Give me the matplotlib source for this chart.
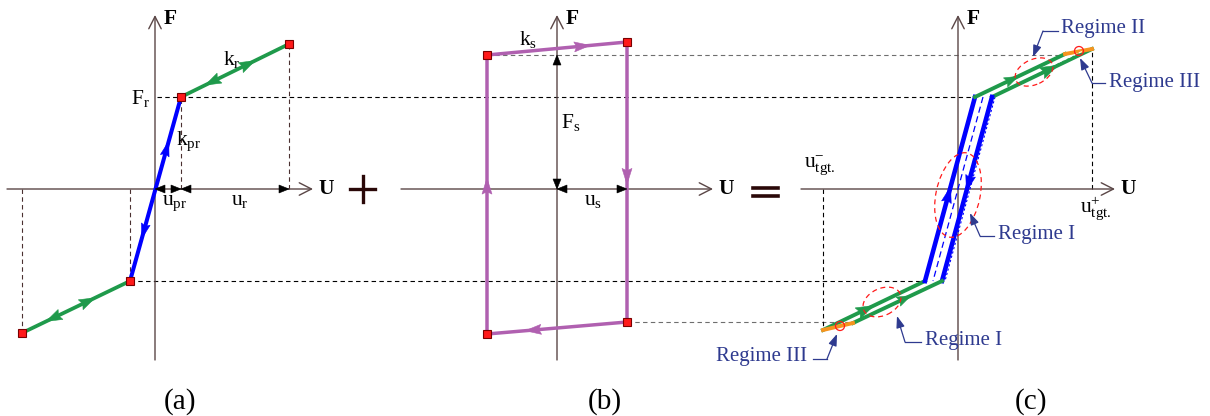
import matplotlib
matplotlib.use("Agg")
import numpy as np
import matplotlib.pyplot as plt
from matplotlib.transforms import Affine2D
from matplotlib.patches import Ellipse, Polygon, Circle

plt.rcParams["font.family"] = ["Liberation Serif", "DejaVu Serif"]
plt.rcParams["mathtext.fontset"] = "custom"
plt.rcParams["mathtext.rm"] = "Liberation Serif"
plt.rcParams["mathtext.it"] = "Liberation Serif:italic"
plt.rcParams["mathtext.bf"] = "Liberation Serif:bold"

# ---------------------------------------------------------------- data
# (a) bilinear spring: k_r branch, k_pr elastic branch, k_r branch
spring_u = [-133, -25, 26, 134]
spring_f = [-144, -92, 92, 145]

# (b) slip (friction) element: closed loop, corners in order
slip_u = [-70, 70, 70, -70, -70]
slip_f = [134, 147, -133, -145, 134]

# (c) combined response: loading path and unloading path
load_u = [-135, -33, 17, 107]
load_f = [-141, -92, 92, 135]
unload_u = [134, 34, -16, -105]
unload_f = [140, 92, -92, -134]
# regime III (slip) pieces at both tips
top_slip_u = [107, 134]
top_slip_f = [135, 140]
bot_slip_u = [-105, -135]
bot_slip_f = [-134, -141]

# ---------------------------------------------------------------- layout
W, H = 1210, 416
ROW = 189                       # vertical pixel of the U axis
X0 = {"a": 155, "b": 557, "c": 958}

GREEN = "#1f9a4b"
BLUE = "#0000ff"
PURPLE = "#b060b0"
ORANGE = "#f7941d"
RED = "#ff1a1a"
AXC = "#5a4646"
NAVY = "#2e3a8f"
INK = "#2a0808"

fig = plt.figure(figsize=(W / 100, H / 100), dpi=100)
ax = fig.add_axes([0, 0, 1, 1])
ax.set_xlim(0, W)
ax.set_ylim(H, 0)
ax.axis("off")


def tr(panel):
    return Affine2D().scale(1, -1).translate(X0[panel], ROW) + ax.transData


def gx(panel, u):
    return X0[panel] + u


def gy(f):
    return ROW - f


def tri(tip, d, color, length, width, z, notch=0.15):
    d = np.asarray(d, float)
    d /= np.hypot(*d)
    n = np.array([-d[1], d[0]])
    tip = np.asarray(tip, float)
    base = tip - d * length
    ax.add_patch(Polygon([tip, base + n * width / 2, base + d * length * notch,
                          base - n * width / 2],
                         closed=True, facecolor=color, edgecolor=color,
                         lw=0.4, zorder=z))


def head(panel, p, q, t, color, back=False, length=16, width=11, z=6):
    X1, Y1 = gx(panel, p[0]), gy(p[1])
    X2, Y2 = gx(panel, q[0]), gy(q[1])
    c = np.array([X1 + (X2 - X1) * t, Y1 + (Y2 - Y1) * t])
    d = np.array([X2 - X1, Y2 - Y1], float)
    d /= np.hypot(*d)
    if back:
        d = -d
    tri(c + d * length / 2, d, color, length, width, z)


def dim_heads(xa, ya, xb, yb):
    # filled black heads at both ends of a dimension run along an axis
    d = np.array([xb - xa, yb - ya], float)
    tri((xb, yb), d, "black", 10, 8, 7, notch=0.0)
    tri((xa, ya), -d, "black", 10, 8, 7, notch=0.0)


def axis_arrow(x1, y1, x2, y2):
    ax.annotate("", xy=(x2, y2), xytext=(x1, y1),
                arrowprops=dict(arrowstyle="->,head_length=0.55,head_width=0.28",
                                color=AXC, lw=1.0, shrinkA=0, shrinkB=0,
                                mutation_scale=16), zorder=2)


def dashed(xs, ys, color="black", lw=0.8):
    ax.plot(xs, ys, color=color, lw=lw, ls=(0, (4, 3)), zorder=1)


def red_marks(panel, us, fs):
    ax.plot(us, fs, ls="none", marker="s", ms=5.8, mfc=RED, mec="#7a0000",
            mew=0.8, transform=tr(panel), zorder=8)


# ---------------------------------------------------------------- axes
for p, (xl, xr) in {"a": (7, 313), "b": (401, 713), "c": (801, 1115)}.items():
    axis_arrow(xl, ROW, xr, ROW)
    axis_arrow(X0[p], 360, X0[p], 15)
    ax.text(X0[p] + 9, 19, "F", fontsize=15.5, fontweight="bold", ha="left", va="center")
    ax.text(xr + 5, ROW, "U", fontsize=15.5, fontweight="bold", ha="left", va="center")

# ---------------------------------------------------------------- reference lines
# force levels carried across the panels
dashed([gx("a", 2), gx("c", load_u[2])], [gy(spring_f[2])] * 2)
dashed([gx("a", spring_u[1]), gx("c", load_u[1])], [gy(spring_f[1])] * 2)
dashed([gx("b", slip_u[0]), gx("c", load_u[3])], [gy(slip_f[0])] * 2, color="#6e6e6e")
dashed([gx("b", slip_u[2]), gx("c", unload_u[3])], [gy(slip_f[2])] * 2, color="#6e6e6e")
# vertical projections
for u, f in zip(spring_u, spring_f):
    dashed([gx("a", u)] * 2, [gy(0), gy(f)], color="#4a3030")
dashed([gx("c", load_u[0])] * 2, [gy(0), gy(load_f[0])])
dashed([gx("c", unload_u[0])] * 2, [gy(0), gy(unload_f[0])])

# ---------------------------------------------------------------- (a)
ta = tr("a")
ax.plot(spring_u[0:2], spring_f[0:2], color=GREEN, lw=2.7, transform=ta, zorder=4,
        solid_capstyle="butt")
ax.plot(spring_u[1:3], spring_f[1:3], color=BLUE, lw=2.9, transform=ta, zorder=4)
ax.plot(spring_u[2:4], spring_f[2:4], color=GREEN, lw=2.7, transform=ta, zorder=4,
        solid_capstyle="butt")
red_marks("a", spring_u, spring_f)
sp = list(zip(spring_u, spring_f))
head("a", sp[2], sp[3], 0.62, GREEN)
head("a", sp[2], sp[3], 0.29, GREEN, back=True)
head("a", sp[1], sp[2], 0.72, BLUE, length=15, width=9)
head("a", sp[1], sp[2], 0.27, BLUE, back=True, length=15, width=9)
head("a", sp[0], sp[1], 0.61, GREEN)
head("a", sp[0], sp[1], 0.29, GREEN, back=True)
dim_heads(gx("a", 0), ROW, gx("a", spring_u[2]), ROW)
dim_heads(gx("a", spring_u[2]), ROW, gx("a", spring_u[3]), ROW)

ax.text(223, 65, r"$\mathrm{k_r}$", fontsize=15.5, ha="left", va="baseline")
ax.text(131, 104, r"$\mathrm{F_r}$", fontsize=15.5, ha="left", va="baseline")
ax.text(176, 145, r"$\mathrm{k_{pr}}$", fontsize=15.5, ha="left", va="baseline")
ax.text(162, 205, r"$\mathrm{u_{pr}}$", fontsize=15.5, ha="left", va="baseline")
ax.text(231, 205, r"$\mathrm{u_r}$", fontsize=15.5, ha="left", va="baseline")

# ---------------------------------------------------------------- (b)
tb = tr("b")
ax.plot(slip_u, slip_f, color=PURPLE, lw=2.5, transform=tb, zorder=4)
red_marks("b", slip_u[:4], slip_f[:4])
sl = list(zip(slip_u, slip_f))
head("b", sl[0], sl[1], 0.68, PURPLE, length=16, width=10)
head("b", sl[1], sl[2], 0.48, PURPLE, length=16, width=10)
head("b", sl[2], sl[3], 0.67, PURPLE, length=16, width=10)
head("b", sl[3], sl[4], 0.53, PURPLE, length=16, width=10)
dim_heads(gx("b", 0), ROW, gx("b", 0), gy(slip_f[0]))
dim_heads(gx("b", 0), ROW, gx("b", slip_u[1]), ROW)
ax.text(519, 45, r"$\mathrm{k_s}$", fontsize=15.5, ha="left", va="baseline")
ax.text(561, 128, r"$\mathrm{F_s}$", fontsize=15.5, ha="left", va="baseline")
ax.text(584, 205, r"$\mathrm{u_s}$", fontsize=15.5, ha="left", va="baseline")

# ---------------------------------------------------------------- operators
ax.plot([350, 375], [189, 189], color=INK, lw=2.4)
ax.plot([362.5, 362.5], [176, 202], color=INK, lw=2.4)
ax.plot([753, 778], [188, 188], color=INK, lw=2.6)
ax.plot([753, 778], [196, 196], color=INK, lw=2.6)

# ---------------------------------------------------------------- (c)
tc = tr("c")
lp = list(zip(load_u, load_f))
up = list(zip(unload_u, unload_f))
# elastic-slope middle trace and thin dashed companions
ax.plot([25, -25], [92, -92], color=BLUE, lw=0.9, ls=(0, (5, 3)), transform=tc, zorder=3)
ax.plot([unload_u[1] + 3, unload_u[2] + 3], [92, -92], color=BLUE, lw=0.8,
        ls=(0, (2, 2)), transform=tc, zorder=3)
# loading / unloading branches
ax.plot(load_u[0:2], load_f[0:2], color=GREEN, lw=2.8, transform=tc, zorder=4)
ax.plot(load_u[1:3], load_f[1:3], color=BLUE, lw=3.3, transform=tc, zorder=4)
ax.plot(load_u[2:4], load_f[2:4], color=GREEN, lw=2.8, transform=tc, zorder=4)
ax.plot(unload_u[0:2], unload_f[0:2], color=GREEN, lw=2.8, transform=tc, zorder=4)
ax.plot(unload_u[1:3], unload_f[1:3], color=BLUE, lw=3.3, transform=tc, zorder=4)
ax.plot(unload_u[2:4], unload_f[2:4], color=GREEN, lw=2.8, transform=tc, zorder=4)
ax.plot(top_slip_u, top_slip_f, color=ORANGE, lw=2.8, transform=tc, zorder=4)
ax.plot(bot_slip_u, bot_slip_f, color=ORANGE, lw=2.8, transform=tc, zorder=4)
# light dashed centre of the upper green band
ax.plot([40, 125], [99, 138], color="white", lw=0.8, ls=(0, (3, 2)), transform=tc, zorder=5)

head("c", lp[1], lp[2], 0.47, BLUE, length=16, width=10)
head("c", up[1], up[2], 0.47, BLUE, length=16, width=10)
head("c", lp[2], lp[3], 0.41, GREEN, length=14, width=10)
head("c", up[0], up[1], 0.42, GREEN, back=True, length=18, width=12)
head("c", lp[0], lp[1], 0.42, GREEN, length=18, width=12)
head("c", up[2], up[3], 0.42, GREEN, back=True, length=14, width=10)

# regime markers
red_ls = (0, (4, 3))
for (cu, cf), w, h, ang in [((76, 117), 40, 25, 25), ((0, -6), 44, 86, -12),
                            ((-76, -113), 40, 27, 25)]:
    ax.add_patch(Ellipse((cu, cf), w, h, angle=ang, fill=False, ec=RED, lw=0.9,
                         ls=red_ls, transform=tc, zorder=6))
for cu, cf in [(121, 138), (-118, -137)]:
    ax.add_patch(Circle((cu, cf), 4.5, fill=False, ec=RED, lw=0.9, transform=tc, zorder=6))

ax.text(804, 168, r"$\mathrm{u^{-}_{tgt.}}$", fontsize=15.5, ha="left", va="baseline")
ax.text(1080, 212, r"$\mathrm{u^{+}_{tgt.}}$", fontsize=15.5, ha="left", va="baseline")


def leader(text, tx, ty, pts, ha="left"):
    (x1, y1), (x2, y2), (x3, y3) = pts
    ax.plot([x1, x2], [y1, y2], color=NAVY, lw=0.9, zorder=6)
    ax.annotate("", xy=(x3, y3), xytext=(x2, y2),
                arrowprops=dict(arrowstyle="-|>,head_length=0.5,head_width=0.18",
                                color=NAVY, lw=0.9, shrinkA=0, shrinkB=0,
                                mutation_scale=14), zorder=6)
    ax.text(tx, ty, text, fontsize=15, color=NAVY, ha=ha, va="center")


leader("Regime II", 1061, 29, [(1058, 31), (1043, 31), (1033, 57)])
leader("Regime III", 1109, 82, [(1105, 83), (1092, 83), (1080, 58)])
leader("Regime I", 998, 235, [(994, 236), (980, 236), (970, 213)])
leader("Regime I", 925, 340, [(921, 342), (905, 342), (897, 316)])
leader("Regime III", 807, 357, [(813, 359), (827, 359), (837, 334)], ha="right")

# ---------------------------------------------------------------- captions
for x, s in [(180, "(a)"), (605, "(b)"), (1031, "(c)")]:
    ax.text(x, 402, s, fontsize=21, ha="center", va="center")

fig.savefig("out.png", dpi=100)
